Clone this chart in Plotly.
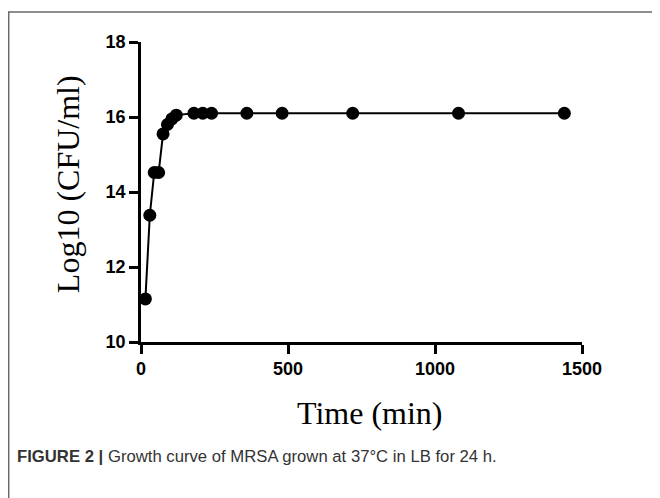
import plotly.graph_objects as go

time_min = [15, 30, 45, 60, 75, 90, 105, 120, 180, 210, 240, 360, 480, 720, 1080, 1440]
log_cfu = [11.15, 13.38, 14.52, 14.52, 15.55, 15.8, 15.95, 16.05, 16.1, 16.1, 16.1, 16.1, 16.1, 16.1, 16.1, 16.1]
x_ticks = [0, 500, 1000, 1500]
y_ticks = [10, 12, 14, 16, 18]

fig = go.Figure()
fig.add_trace(go.Scatter(
    x=time_min, y=log_cfu, mode="lines+markers",
    line=dict(color="black", width=2),
    marker=dict(color="black", size=13, symbol="circle"),
    showlegend=False, cliponaxis=False,
))

axis_common = dict(
    showline=True, linecolor="black", linewidth=2.5,
    ticks="outside", ticklen=9, tickwidth=2.5, tickcolor="black",
    showgrid=False, zeroline=False, automargin=False,
    tickfont=dict(family="Liberation Sans, Arial", size=18, color="black", weight="bold"),
)
fig.update_xaxes(range=[0, 1500], tickvals=x_ticks, **axis_common)
fig.update_yaxes(range=[10, 18], tickvals=y_ticks, **axis_common)

serif = dict(family="Liberation Serif, Times New Roman", size=32, color="black")
fig.add_annotation(xref="paper", yref="paper", x=0.519, y=-0.237,
                   xanchor="center", yanchor="middle", showarrow=False,
                   text="Time (min)", font=serif)
fig.add_annotation(xref="paper", yref="paper", x=-0.165, y=0.527,
                   xanchor="center", yanchor="middle", showarrow=False,
                   text="Log10 (CFU/ml)", textangle=-90, font=serif)

fig.add_shape(type="rect", xref="paper", yref="paper",
              x0=-0.3, x1=1.3, y0=-0.7, y1=1.1,
              line=dict(color="#6a6a6a", width=1.5), layer="below")

fig.add_annotation(xref="paper", yref="paper", x=-0.285, y=-0.383,
                   xanchor="left", yanchor="middle", showarrow=False,
                   text="<b>FIGURE 2 |</b> Growth curve of MRSA grown at 37°C in LB for 24 h.",
                   font=dict(family="Liberation Sans Narrow, Arial Narrow, Liberation Sans", size=16.7, color="#333333"))

fig.update_layout(
    width=660, height=498,
    margin=dict(l=133, r=86, t=34, b=164),
    paper_bgcolor="white", plot_bgcolor="white",
)
fig.write_html("out.html")
